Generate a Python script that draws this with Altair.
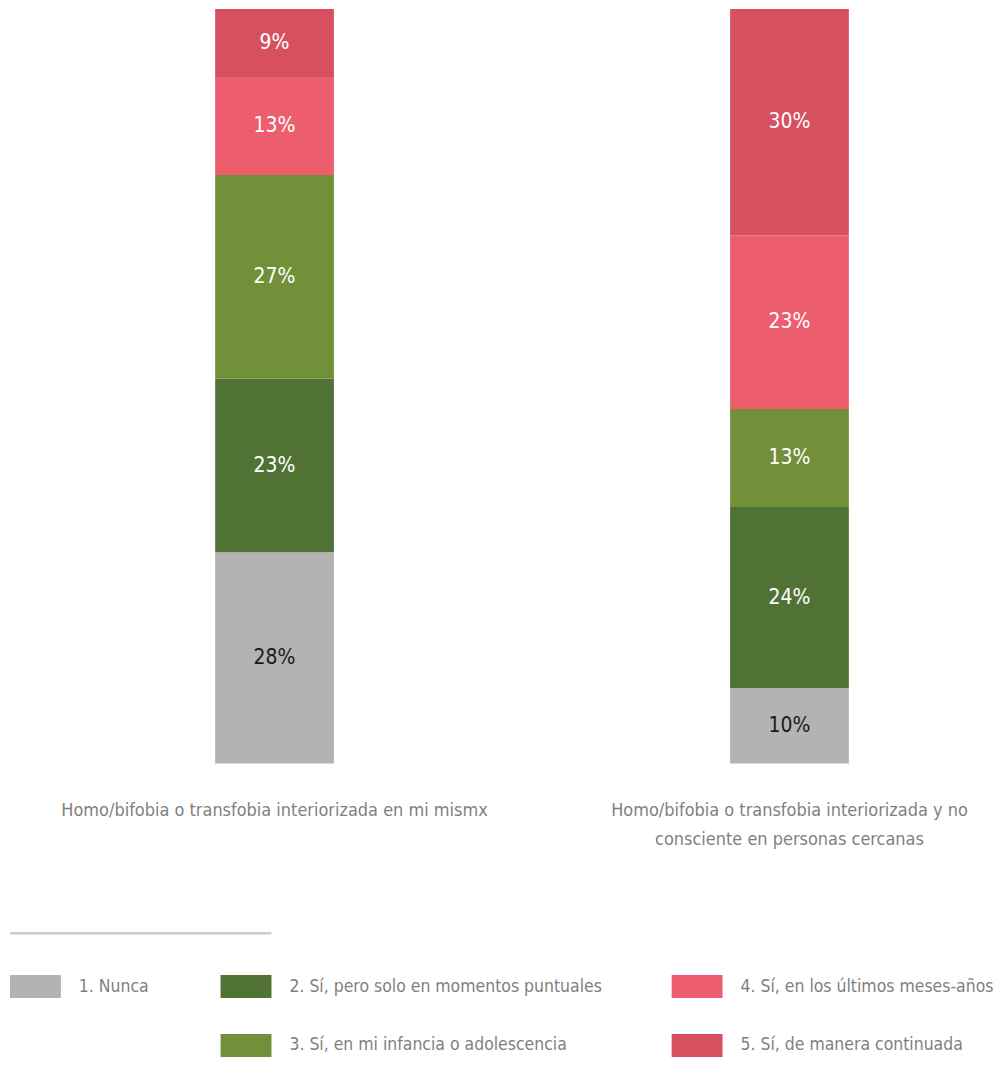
import json
import altair as alt
import pandas as pd

# ---------------- data ----------------
cat_lines = [
    ["Homo/bifobia o transfobia interiorizada en mi mismx"],
    ["Homo/bifobia o transfobia interiorizada y no", "consciente en personas cercanas"],
]
categories = [" ".join(l) for l in cat_lines]
series = [
    "1. Nunca",
    "2. Sí, pero solo en momentos puntuales",
    "3. Sí, en mi infancia o adolescencia",
    "4. Sí, en los últimos meses-años",
    "5. Sí, de manera continuada",
]
values_self = [28, 23, 27, 13, 9]
values_close = [10, 24, 13, 23, 30]

# ---------------- styles ----------------
colors = ["#B3B3B3", "#517235", "#729039", "#EC5E6E", "#D6505F"]
label_colors = ["#1a1a1a", "#ffffff", "#ffffff", "#ffffff", "#ffffff"]
FONT = "DejaVu Sans Condensed, Liberation Sans Narrow, sans-serif"
TEXT_GRAY = "#7f7f7f"

rows = []
for cat, vals in zip(categories, [values_self, values_close]):
    for i, (s, v) in enumerate(zip(series, vals)):
        rows.append({"cat": cat, "series": s, "value": v, "order": i})
df = pd.DataFrame(rows)

# label expression for multi-line axis labels
parts = []
for cat, lines in zip(categories, cat_lines):
    if len(lines) > 1:
        parts.append(f"datum.value == {json.dumps(cat)} ? {json.dumps(lines)} : ")
label_expr = "".join(parts) + "datum.label"

base = (
    alt.Chart(df)
    .transform_stack(
        stack="value",
        groupby=["cat"],
        as_=["y0", "y1"],
        sort=[alt.SortField("order", order="ascending")],
    )
    .transform_calculate(mid="(datum.y0 + datum.y1) / 2", label="datum.value + '%'")
)

x_scale = alt.Scale(paddingInner=0.7694, paddingOuter=0.3411, align=0.584)
x_axis = alt.Axis(
    title=None,
    ticks=False,
    domain=False,
    labelAngle=0,
    labelExpr=label_expr,
    labelFont=FONT,
    labelFontSize=18,
    labelColor=TEXT_GRAY,
    labelPadding=38,
    labelLimit=700,
    labelLineHeight=29,
    labelBaseline="top",
)
y_enc_scale = alt.Scale(domain=[0, 100])

bars = base.mark_bar(strokeWidth=0).encode(
    x=alt.X("cat:N", sort=categories, scale=x_scale, axis=x_axis),
    y=alt.Y("y0:Q", scale=y_enc_scale, axis=None),
    y2="y1:Q",
    color=alt.Color("series:N", scale=alt.Scale(domain=series, range=colors), legend=None),
)
texts = base.mark_text(font=FONT, fontSize=21, baseline="middle").encode(
    x=alt.X("cat:N", sort=categories),
    y=alt.Y("mid:Q"),
    text="label:N",
    color=alt.Color("series:N", scale=alt.Scale(domain=series, range=label_colors), legend=None),
)
main = alt.layer(bars, texts).resolve_scale(color="independent").properties(width=987, height=756)

# ---------------- custom legend (column groups) ----------------
legend_cols = [[0], [1, 2], [3, 4]]
legend_widths = [191, 432, 310]


def legend_col(idxs, width, with_rule=False):
    d = pd.DataFrame({"series": [series[i] for i in idxs], "row": list(range(1, len(idxs) + 1))})
    yenc = alt.Y(
        "row:O",
        scale=alt.Scale(domain=[1, 2], paddingInner=0.61, paddingOuter=0.39, align=1),
        axis=None,
    )
    sw = alt.Chart(d).mark_rect().encode(
        x=alt.value(0),
        x2=alt.value(51),
        y=yenc,
        color=alt.Color("series:N", scale=alt.Scale(domain=series, range=colors), legend=None),
    )
    tx = alt.Chart(d).mark_text(
        align="left", baseline="middle", font=FONT, fontSize=17.5, color=TEXT_GRAY
    ).encode(x=alt.value(69), y=yenc, text="series:N")
    layers = [sw, tx]
    if with_rule:
        rule = alt.Chart(d.head(1)).mark_rule(color="#cccccc", strokeWidth=2.5).encode(
            x=alt.value(0), x2=alt.value(262), y=alt.value(4)
        )
        layers.insert(0, rule)
    return alt.layer(*layers).properties(width=width, height=128)


legend = alt.hconcat(
    *[legend_col(ix, w, with_rule=(k == 0)) for k, (ix, w) in enumerate(zip(legend_cols, legend_widths))],
    spacing=20,
    bounds="flush",
)

chart = (
    alt.vconcat(main, legend, spacing=166, bounds="flush")
    .properties(padding=0)
    .configure_view(strokeWidth=0)
)

chart.save("out.html", embed_options={"renderer": "svg", "actions": False})
